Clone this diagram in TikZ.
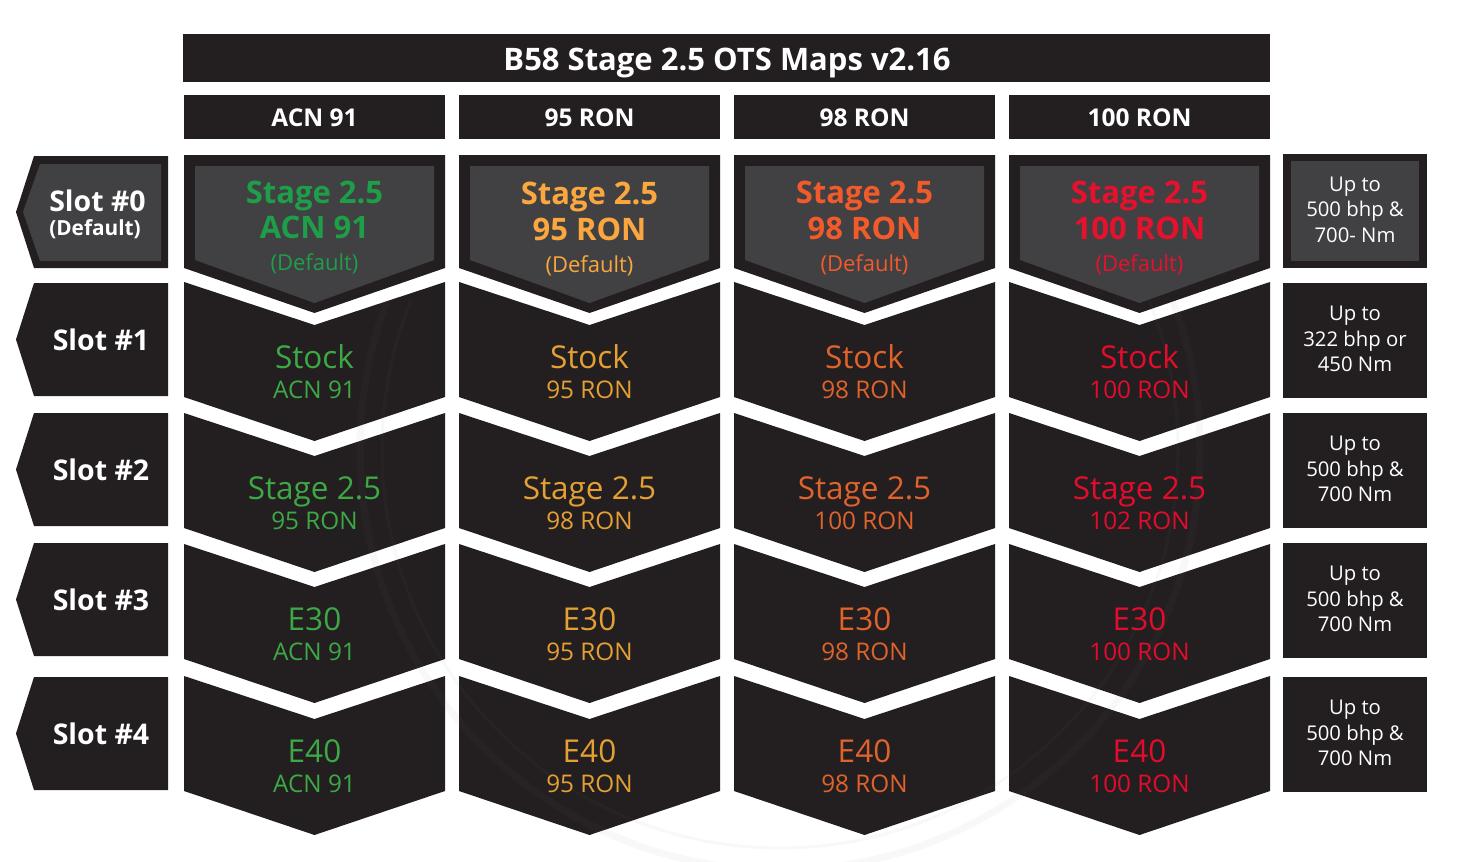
\documentclass[tikz,border=0pt]{standalone}
\usepackage{fontspec}
\setmainfont{Open Sans}
\definecolor{dk}{HTML}{231F20}
\definecolor{gy}{HTML}{414042}
\definecolor{gA}{HTML}{1E9E49}
\definecolor{gB}{HTML}{3DA946}
\definecolor{oA}{HTML}{F9A73E}
\definecolor{oB}{HTML}{E4A032}
\definecolor{rA}{HTML}{F15A2B}
\definecolor{rB}{HTML}{E0632B}
\definecolor{xA}{HTML}{E8112D}
\definecolor{xB}{HTML}{E30C2C}
\tikzset{
  darkfill/.style={fill=dk},
  grayfill/.style={fill=gy},
  titletxt/.style={text=white,font=\bfseries\fontsize{31}{35}\selectfont,anchor=base},
  hdrtxt/.style={text=white,font=\bfseries\fontsize{24.5}{28}\selectfont,anchor=base},
  boldbig/.style={font=\bfseries\fontsize{31}{35}\selectfont,anchor=base,inner sep=0pt},
  regbig/.style={font=\fontsize{31.5}{35}\selectfont,anchor=base,inner sep=0pt},
  regsub/.style={font=\fontsize{24.3}{28}\selectfont,anchor=base,inner sep=0pt},
  deftxt/.style={font=\fontsize{22}{26}\selectfont,anchor=base,inner sep=0pt},
  slottxt/.style={text=white,font=\bfseries\fontsize{28.5}{32}\selectfont,anchor=base,inner sep=0pt},
  slotsub/.style={text=white,font=\bfseries\fontsize{20.8}{24}\selectfont,anchor=base,inner sep=0pt},
  infotxt/.style={text=white,font=\fontsize{20.3}{25}\selectfont,anchor=base,inner sep=0pt,align=center},
  wmark/.style={draw=gray,opacity=0.05},
}
\newcommand\chevcell[2]{% left x, top y
  \fill[darkfill] (#1,#2) -- (#1+130.5,#2+43) -- (#1+261,#2) -- (#1+261,#2+115)
     -- (#1+130.5,#2+159) -- (#1,#2+115) -- cycle;}
\newcommand\slotbox[2]{% top y, bottom y
  \fill[darkfill] (168,#1) -- (34,#1) -- (16,{(#1+#2)/2}) -- (34,#2) -- (168,#2) -- cycle;}
\newcommand\infobox[2]{% top, bottom
  \fill[darkfill] (1283,#1) rectangle (1427,#2);}
\begin{document}
\begin{tikzpicture}[x=1pt,y=-1pt]
\useasboundingbox (0,0) rectangle (1462,862);
\fill[white] (0,0) rectangle (1462,862);
% title and headers
\fill[darkfill] (183,34) rectangle (1270,82);
\node[titletxt] (title) at (727,70) {B58 Stage 2.5 OTS Maps v2.16};
\foreach \x/\t [count=\i] in {184/ACN 91,459/95 RON,734/98 RON,1009/100 RON}{
  \fill[darkfill] (\x,95) rectangle (\x+261,139);
  \node[hdrtxt] (hdr\i) at (\x+130.5,126.5) {\t};
}
% row 0 (default) cells
\foreach \x in {184,459,734,1009}{
  \fill[darkfill] (\x,155) -- (\x+261,155) -- (\x+261,268) -- (\x+130.5,313) -- (\x,268) -- cycle;
  \fill[grayfill] (\x+11,166) -- (\x+250,166) -- (\x+250,260) -- (\x+130.5,303) -- (\x+11,260) -- cycle;
}
% rows 1-4 cells
\foreach \y in {282,413,544,676}{
  \foreach \x in {184,459,734,1009}{ \chevcell{\x}{\y} }
}
% slot boxes
\fill[darkfill] (168,156) -- (34,156) -- (16,212) -- (34,268) -- (168,268) -- cycle;
\fill[grayfill] (161,164) -- (40,164) -- (23,212) -- (40,261) -- (161,261) -- cycle;
\slotbox{283}{396}
\slotbox{413}{526}
\slotbox{543}{656}
\slotbox{677}{790}
% info boxes
\fill[darkfill] (1283,154) rectangle (1427,268);
\fill[grayfill] (1291,161) rectangle (1419,261);
\infobox{283}{398}
\infobox{413}{528}
\infobox{543}{658}
\infobox{677}{792}
% watermark (faint rings, lower part only)
\begin{scope}
  \clip (0,300) rectangle (1462,862);
  \draw[wmark,line width=7] (780,450) circle (420);
  \draw[wmark,line width=3] (780,450) circle (398);
\end{scope}
% row 0 texts
\node[boldbig,text=gA] (c01a) at (314.5,203) {Stage 2.5};
\node[boldbig,text=gA] (c01b) at (314.5,238) {ACN 91};
\node[deftxt,text=gA] (c01c) at (314.5,270) {(Default)};
\node[boldbig,text=oA] (c02a) at (589.5,204) {Stage 2.5};
\node[boldbig,text=oA] (c02b) at (589.5,240) {95 RON};
\node[deftxt,text=oA] (c02c) at (589.5,272) {(Default)};
\node[boldbig,text=rA] (c03a) at (864.5,203) {Stage 2.5};
\node[boldbig,text=rA] (c03b) at (864.5,239) {98 RON};
\node[deftxt,text=rA] (c03c) at (864.5,271) {(Default)};
\node[boldbig,text=xA] (c04a) at (1139.5,203) {Stage 2.5};
\node[boldbig,text=xA] (c04b) at (1139.5,239) {100 RON};
\node[deftxt,text=xA] (c04c) at (1139.5,271) {(Default)};
% rows 1-4 texts
\foreach \r/\y/\m/\sa/\sb/\sc/\sd in {
   1/282/Stock/ACN 91/95 RON/98 RON/100 RON,
   2/413/Stage 2.5/95 RON/98 RON/100 RON/102 RON,
   3/544/E30/ACN 91/95 RON/98 RON/100 RON,
   4/676/E40/ACN 91/95 RON/98 RON/100 RON}{
  \node[regbig,text=gB] (c\r1a) at (314.5,\y+86) {\m};
  \node[regsub,text=gB] (c\r1b) at (314.5,\y+116) {\sa};
  \node[regbig,text=oB] (c\r2a) at (589.5,\y+86) {\m};
  \node[regsub,text=oB] (c\r2b) at (589.5,\y+116) {\sb};
  \node[regbig,text=rB] (c\r3a) at (864.5,\y+86) {\m};
  \node[regsub,text=rB] (c\r3b) at (864.5,\y+116) {\sc};
  \node[regbig,text=xB] (c\r4a) at (1139.5,\y+86) {\m};
  \node[regsub,text=xB] (c\r4b) at (1139.5,\y+116) {\sd};
}
% slot labels
\node[slottxt] (s0) at (97.5,211) {Slot \#0};
\node[slotsub] (s0b) at (95,235) {(Default)};
\node[slottxt] (s1) at (101,350) {Slot \#1};
\node[slottxt] (s2) at (101,480) {Slot \#2};
\node[slottxt] (s3) at (101,610) {Slot \#3};
\node[slottxt] (s4) at (101,744) {Slot \#4};
% info texts
\foreach \t/\l/\a/\b/\c in {154/268/Up to/500 bhp \&/700- Nm,
   283/398/Up to/322 bhp or/450 Nm,
   413/528/Up to/500 bhp \&/700 Nm,
   543/658/Up to/500 bhp \&/700 Nm,
   677/792/Up to/500 bhp \&/700 Nm}{
  \node[infotxt] (i\t a) at (1355,{(\t+\l)/2-20}) {\a};
  \node[infotxt] (i\t b) at (1355,{(\t+\l)/2+5.5}) {\b};
  \node[infotxt] (i\t c) at (1355,{(\t+\l)/2+31}) {\c};
}
\end{tikzpicture}
\end{document}
